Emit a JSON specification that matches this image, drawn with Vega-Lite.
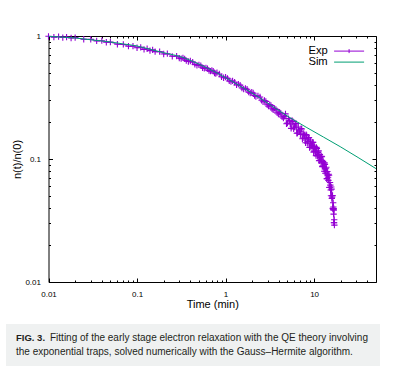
{
  "$schema": "https://vega.github.io/schema/vega-lite/v6.json",
  "padding": {"left": 6, "top": 30, "right": 5, "bottom": 5},
  "background": "white",
  "config": {
    "font": "Liberation Sans",
    "view": {"stroke": null},
    "axis": {"grid": false, "domainColor": "black", "tickColor": "black", "labelColor": "black", "titleColor": "black", "labelFont": "Liberation Sans", "titleFont": "Liberation Sans", "labelFontSize": 8, "titleFontSize": 11, "titleFontWeight": "normal", "domainWidth": 1, "tickWidth": 1, "labelFlush": false, "labelOverlap": false}
  },
  "spacing": 15,
  "resolve": {"scale": {"color": "independent"}, "legend": {"color": "independent"}},
  "datasets": {
    "exp": [
      {"t":0.01,"y":0.994},{"t":0.0115,"y":0.979},{"t":0.013,"y":0.987},{"t":0.0145,"y":0.971},{"t":0.016,"y":0.979},{"t":0.018,"y":0.963},{"t":0.02,"y":0.971},{"t":0.025,"y":0.941},{"t":0.03,"y":0.938},{"t":0.035,"y":0.913},{"t":0.04,"y":0.916},{"t":0.045,"y":0.889},{"t":0.05,"y":0.891},{"t":0.06,"y":0.857},{"t":0.07,"y":0.854},{"t":0.08,"y":0.826},{"t":0.09,"y":0.828},{"t":0.1,"y":0.802},
      {"t":0.11,"y":0.808},{"t":0.12,"y":0.779},{"t":0.13,"y":0.788},{"t":0.14,"y":0.761},{"t":0.15,"y":0.771},{"t":0.16,"y":0.746},{"t":0.18,"y":0.747},{"t":0.2,"y":0.714},{"t":0.22,"y":0.718},{"t":0.25,"y":0.684},{"t":0.28,"y":0.686},{"t":0.3,"y":0.661},
      {"t":0.315,"y":0.655},{"t":0.33,"y":0.664},{"t":0.345,"y":0.652},{"t":0.36,"y":0.631},{"t":0.38,"y":0.62},{"t":0.4,"y":0.626},{"t":0.425,"y":0.613},{"t":0.45,"y":0.588},{"t":0.475,"y":0.578},{"t":0.5,"y":0.583},{"t":0.525,"y":0.574},{"t":0.55,"y":0.552},{"t":0.575,"y":0.545},{"t":0.6,"y":0.551},{"t":0.625,"y":0.543},{"t":0.65,"y":0.523},{"t":0.675,"y":0.518},{"t":0.7,"y":0.525},{"t":0.725,"y":0.517},{"t":0.75,"y":0.5},{"t":0.775,"y":0.495},{"t":0.8,"y":0.504},
      {"t":0.85,"y":0.491},{"t":0.9,"y":0.466},{"t":0.95,"y":0.458},{"t":1.0,"y":0.463},{"t":1.05,"y":0.452},{"t":1.1,"y":0.431},{"t":1.15,"y":0.425},{"t":1.2,"y":0.432},{"t":1.265,"y":0.421},{"t":1.33,"y":0.4},{"t":1.395,"y":0.406},{"t":1.46,"y":0.399},{"t":1.53,"y":0.378},{"t":1.6,"y":0.37},{"t":1.675,"y":0.375},{"t":1.75,"y":0.369},{"t":1.825,"y":0.35},{"t":1.9,"y":0.343},{"t":1.975,"y":0.349},{"t":2.05,"y":0.344},{"t":2.125,"y":0.328},{"t":2.2,"y":0.322},{"t":2.32,"y":0.326},{"t":2.45,"y":0.319},
      {"t":2.55,"y":0.3},{"t":2.65,"y":0.292},{"t":2.75,"y":0.299},{"t":2.85,"y":0.294},{"t":2.95,"y":0.276},{"t":3.05,"y":0.269},{"t":3.15,"y":0.277},{"t":3.25,"y":0.273},{"t":3.35,"y":0.256},{"t":3.45,"y":0.251},{"t":3.575,"y":0.258},{"t":3.7,"y":0.253},{"t":3.825,"y":0.237},{"t":3.95,"y":0.232},{"t":4.075,"y":0.24},{"t":4.2,"y":0.236},{"t":4.35,"y":0.22},{"t":4.5,"y":0.215},{"t":4.625,"y":0.222},
      {"t":4.75,"y":0.2329},{"t":4.875,"y":0.1933},{"t":5.0,"y":0.1958},{"t":5.125,"y":0.2132},{"t":5.25,"y":0.2063},{"t":5.375,"y":0.1927},{"t":5.5,"y":0.1775},{"t":5.625,"y":0.2064},{"t":5.75,"y":0.2019},{"t":5.875,"y":0.1757},
      {"t":6.0,"y":0.1817},{"t":6.125,"y":0.1892},{"t":6.25,"y":0.1948},{"t":6.375,"y":0.1618},{"t":6.5,"y":0.1628},{"t":6.625,"y":0.1822},{"t":6.75,"y":0.1718},{"t":6.875,"y":0.1664},
      {"t":7.0,"y":0.1581},{"t":7.125,"y":0.1765},{"t":7.25,"y":0.1755},{"t":7.375,"y":0.146},{"t":7.5,"y":0.1483},{"t":7.625,"y":0.1618},{"t":7.75,"y":0.1569},{"t":7.875,"y":0.1468},
      {"t":8.0,"y":0.1356},{"t":8.125,"y":0.1579},{"t":8.25,"y":0.1547},{"t":8.375,"y":0.1346},{"t":8.5,"y":0.1391},{"t":8.625,"y":0.1448},{"t":8.75,"y":0.1492},{"t":8.875,"y":0.124},
      {"t":9.0,"y":0.1248},{"t":9.125,"y":0.1401},{"t":9.25,"y":0.1324},{"t":9.375,"y":0.1285},{"t":9.5,"y":0.1224},{"t":9.625,"y":0.137},{"t":9.75,"y":0.1364},{"t":9.875,"y":0.1137},
      {"t":10.0,"y":0.1157},{"t":10.125,"y":0.1264},{"t":10.25,"y":0.1229},{"t":10.375,"y":0.1152},{"t":10.5,"y":0.1066},{"t":10.625,"y":0.1242},{"t":10.75,"y":0.1218},{"t":10.875,"y":0.1057},
      {"t":11.0,"y":0.109},{"t":11.125,"y":0.1133},{"t":11.25,"y":0.1165},{"t":11.375,"y":0.0967},{"t":11.5,"y":0.0972},{"t":11.625,"y":0.1089},{"t":11.75,"y":0.1027},{"t":11.875,"y":0.0994},
      {"t":12.0,"y":0.0943},{"t":12.125,"y":0.1051},{"t":12.25,"y":0.1042},{"t":12.375,"y":0.0867},{"t":12.5,"y":0.0879},{"t":12.625,"y":0.0956},{"t":12.75,"y":0.0925},{"t":12.875,"y":0.0864},
      {"t":13.0,"y":0.0795},{"t":13.125,"y":0.093},{"t":13.25,"y":0.0904},{"t":13.375,"y":0.0766},{"t":13.5,"y":0.0795},{"t":13.625,"y":0.0832},{"t":13.75,"y":0.0858},{"t":13.875,"y":0.069},
      {"t":14.0,"y":0.0693},{"t":14.125,"y":0.0791},{"t":14.25,"y":0.0739},{"t":14.375,"y":0.0711},{"t":14.5,"y":0.067},{"t":14.625,"y":0.0752},{"t":14.75,"y":0.0737},{"t":14.875,"y":0.0587},
      {"t":15.0,"y":0.0589},{"t":15.125,"y":0.0644},{"t":15.25,"y":0.0613},{"t":15.375,"y":0.056},{"t":15.5,"y":0.0502},{"t":15.625,"y":0.0592},{"t":15.75,"y":0.0569},{"t":15.85,"y":0.0477},
      {"t":15.95,"y":0.0489},{"t":16.05,"y":0.05},{"t":16.15,"y":0.0505},{"t":16.25,"y":0.0397},{"t":16.35,"y":0.0391},{"t":16.42,"y":0.0441},{"t":16.5,"y":0.0407},{"t":16.55,"y":0.0386},
      {"t":16.6,"y":0.0356},{"t":16.65,"y":0.0396},{"t":16.7,"y":0.0385},{"t":16.75,"y":0.0303},{"t":16.8,"y":0.0303},{"t":16.87,"y":0.0321},{"t":16.94,"y":0.029}
    ],
    "sim": [
      {"t":0.01,"y":0.991},{"t":0.02,"y":0.963},{"t":0.03,"y":0.932},{"t":0.05,"y":0.894},{"t":0.07,"y":0.862},{"t":0.1,"y":0.829},{"t":0.14,"y":0.78},{"t":0.2,"y":0.732},{"t":0.331,"y":0.669},{"t":0.515,"y":0.585},{"t":0.802,"y":0.5},{"t":1.46,"y":0.392},{"t":2.45,"y":0.313},{"t":4.5,"y":0.234},{"t":8.28,"y":0.18},{"t":19.7,"y":0.126},{"t":50,"y":0.0835}
    ],
    "cap": [
      {"line": 1, "w": "b", "text": "FIG. 3."},
      {"line": 1, "w": "n", "text": "Fitting of the early stage electron relaxation with the QE theory involving"},
      {"line": 2, "w": "m", "text": "the exponential traps, solved numerically with the Gauss–Hermite algorithm."}
    ]
  },
  "vconcat": [
    {
      "width": 370,
      "height": 246,
      "resolve": {"axis": {"x": "independent", "y": "independent"}},
      "layer": [
        {
          "data": {"name": "exp"},
          "mark": {"type": "line", "strokeWidth": 0.8},
          "encoding": {
            "x": {"field": "t", "type": "quantitative", "scale": {"type": "log", "domain": [0.01, 50], "nice": false, "range": [42.5, 370]},
              "axis": {"orient": "bottom", "title": "Time (min)", "values": [0.01,0.02,0.03,0.04,0.05,0.06,0.07,0.08,0.09,0.1,0.2,0.3,0.4,0.5,0.6,0.7,0.8,0.9,1,2,3,4,5,6,7,8,9,10,20,30,40], "format": "~g",
                "labelExpr": "indexof([0.01,0.1,1,10], datum.value) >= 0 ? datum.label : ''",
                "tickSize": {"condition": {"test": "indexof([0.01,0.1,1,10], datum.value) >= 0", "value": -4}, "value": -2},
                "labelPadding": 12, "titlePadding": -2}},
            "y": {"field": "y", "type": "quantitative", "scale": {"type": "log", "domain": [0.01, 1], "nice": false},
              "axis": {"orient": "left", "offset": -42.5, "title": "n(t)/n(0)", "values": [0.01,0.02,0.03,0.04,0.05,0.06,0.07,0.08,0.09,0.1,0.2,0.3,0.4,0.5,0.6,0.7,0.8,0.9,1], "format": "~g",
                "labelExpr": "indexof([0.01,0.1,1], datum.value) >= 0 ? datum.label : ''",
                "tickSize": {"condition": {"test": "indexof([0.01,0.1,1], datum.value) >= 0", "value": -4}, "value": -2},
                "labelPadding": 12, "titlePadding": 2}},
            "color": {"datum": "Exp", "scale": {"domain": ["Exp", "Sim"], "range": ["#9400d3", "#009e73"]},
              "legend": {"title": null, "orient": "none", "legendX": 337.5, "legendY": 9.5, "symbolSize": 100, "symbolStrokeWidth": 1,
                "labelAlign": "right", "labelOffset": -27, "labelFontSize": 11.2, "labelFont": "Liberation Sans", "labelColor": "black", "rowPadding": -2, "padding": 0,
                "encode": {"symbols": {"update": {"shape": {"signal": "datum.value === 'Exp' ? 'M-3,0H3M0,-0.4V0.4' : 'M-3,0H3'"}, "fill": {"value": "transparent"}, "stroke": {"scale": "color", "field": "value"}, "strokeWidth": {"value": 1}, "opacity": {"value": 1}}}}}}
          }
        },
        {
          "data": {"name": "exp"},
          "mark": {"type": "point", "shape": "M-1,0H1M0,-1V1", "size": 40, "filled": false, "strokeWidth": 1.1, "opacity": 1},
          "encoding": {
            "x": {"field": "t", "type": "quantitative",
              "axis": {"orient": "top", "labels": false, "title": null, "values": [0.01,0.02,0.03,0.04,0.05,0.06,0.07,0.08,0.09,0.1,0.2,0.3,0.4,0.5,0.6,0.7,0.8,0.9,1,2,3,4,5,6,7,8,9,10,20,30,40],
                "tickSize": {"condition": {"test": "indexof([0.01,0.1,1,10], datum.value) >= 0", "value": -4}, "value": -2}}},
            "y": {"field": "y", "type": "quantitative",
              "axis": {"orient": "right", "labels": false, "title": null, "values": [0.01,0.02,0.03,0.04,0.05,0.06,0.07,0.08,0.09,0.1,0.2,0.3,0.4,0.5,0.6,0.7,0.8,0.9,1],
                "tickSize": {"condition": {"test": "indexof([0.01,0.1,1], datum.value) >= 0", "value": -4}, "value": -2}}},
            "color": {"datum": "Exp"}
          }
        },
        {
          "data": {"name": "sim"},
          "mark": {"type": "line", "strokeWidth": 1, "interpolate": "monotone"},
          "encoding": {
            "x": {"field": "t", "type": "quantitative", "axis": null},
            "y": {"field": "y", "type": "quantitative", "axis": null},
            "color": {"datum": "Sim"}
          }
        }
      ]
    },
    {
      "width": 374,
      "height": 42,
      "view": {"fill": "#eff1f1", "stroke": null},
      "data": {"name": "cap"},
      "encoding": {
        "y": {"field": "line", "type": "ordinal", "axis": null, "scale": {"type": "point", "padding": 1.1}},
        "x": {"datum": 0, "type": "quantitative", "scale": {"domain": [0, 1]}, "axis": null},
        "text": {"field": "text"}
      },
      "layer": [
        {"transform": [{"filter": "datum.w == 'b'"}], "mark": {"type": "text", "align": "left", "baseline": "middle", "font": "Liberation Sans", "fontSize": 9.5, "fontWeight": "bold", "color": "#231f20", "dx": 10}},
        {"transform": [{"filter": "datum.w == 'n'"}], "mark": {"type": "text", "align": "left", "baseline": "middle", "font": "Liberation Sans", "fontSize": 10, "color": "#231f20", "dx": 44}},
        {"transform": [{"filter": "datum.w == 'm'"}], "mark": {"type": "text", "align": "left", "baseline": "middle", "font": "Liberation Sans", "fontSize": 10, "color": "#231f20", "dx": 10}}
      ]
    }
  ]
}
